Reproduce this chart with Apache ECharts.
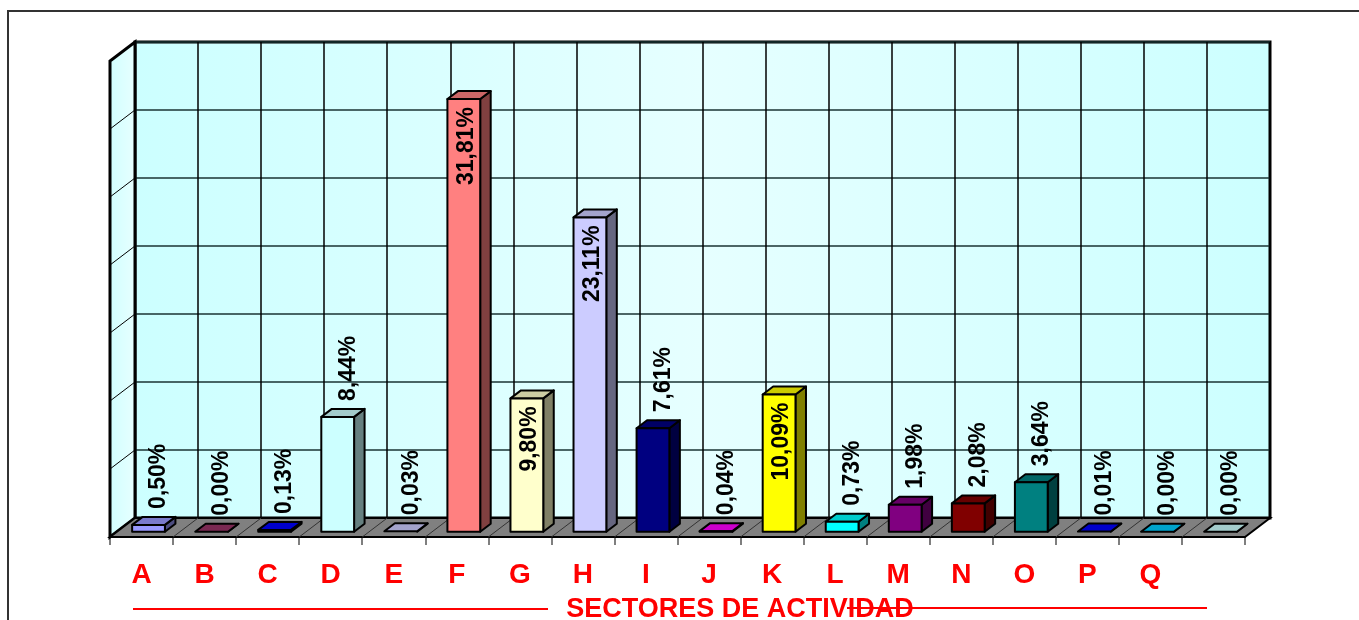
<!DOCTYPE html>
<html lang="es">
<head>
<meta charset="UTF-8">
<title>Sectores de actividad</title>
<style>
  html, body { margin: 0; padding: 0; background: #fff; }
  #chart { width: 1359px; height: 620px; }
</style>
</head>
<body>
<div id="chart"></div>
<script src="https://cdn.jsdelivr.net/npm/echarts@6/dist/echarts.min.js"></script>
<script>
const categories = ['A', 'B', 'C', 'D', 'E', 'F', 'G', 'H', 'I', 'J', 'K', 'L', 'M', 'N', 'O', 'P', 'Q', '']
const values = [0.50, 0.00, 0.13, 8.44, 0.03, 31.81, 9.80, 23.11, 7.61, 0.04, 10.09, 0.73, 1.98, 2.08, 3.64, 0.01, 0.00, 0.00]
const valueLabels = values.map(v => v.toFixed(2).replace('.', ',') + '%')
const barColors = ['#9999ff', '#993366', '#0000ff', '#ccffff', '#ccccff', '#ff8080', '#ffffcc', '#ccccff', '#000080',
  '#ff00ff', '#ffff00', '#00ffff', '#800080', '#800000', '#008080', '#0000ff', '#00ccff', '#ccffff']
const yMax = 35
const yStep = 5

// 3D depth: offset from back wall to front edge of floor
const DX = -25, DY = 19
const F_BACK = 0.3, F_FRONT = 0.72
const LABEL_FONT = 'bold 23px "Liberation Sans", Arial, sans-serif'

function shade(hex, k) {
  const n = parseInt(hex.slice(1), 16)
  const r = Math.round(((n >> 16) & 255) * k)
  const g = Math.round(((n >> 8) & 255) * k)
  const b = Math.round((n & 255) * k)
  return 'rgb(' + r + ',' + g + ',' + b + ')'
}

function renderWalls(params, api) {
  const cs = params.coordSys
  const x0 = cs.x, x1 = cs.x + cs.width
  const yTop = cs.y, yBot = cs.y + cs.height
  const bw = cs.width / categories.length
  const children = []
  children.push({
    type: 'polygon',
    shape: { points: [[x0, yTop], [x0, yBot], [x0 + DX, yBot + DY], [x0 + DX, yTop + DY]] },
    style: {
      fill: new echarts.graphic.LinearGradient(0, 0, 1, 0, [
        { offset: 0, color: '#d0ffff' }, { offset: 1, color: '#e8ffff' }
      ]),
      stroke: '#000', lineWidth: 3
    }
  })
  for (let t = yStep; t < yMax; t += yStep) {
    const y = api.coord([0, t])[1]
    children.push({
      type: 'line',
      shape: { x1: x0, y1: y, x2: x0 + DX, y2: y + DY },
      style: { stroke: '#000', lineWidth: 1 }
    })
  }
  children.push({
    type: 'polygon',
    shape: { points: [[x0, yBot], [x1, yBot], [x1 + DX, yBot + DY], [x0 + DX, yBot + DY]] },
    style: { fill: '#808080', stroke: '#000', lineWidth: 2 }
  })
  for (let k = 1; k < categories.length; k++) {
    const x = x0 + k * bw
    children.push({
      type: 'line',
      shape: { x1: x, y1: yBot, x2: x + DX, y2: yBot + DY },
      style: { stroke: '#333', lineWidth: 1 }
    })
  }
  return { type: 'group', children }
}

function renderBar(params, api) {
  const i = api.value(0)
  const v = api.value(1)
  const base = api.coord([i, 0])
  const top = api.coord([i, v])
  const hw = api.size([1, 0])[0] * 0.26
  const c = base[0]
  const fx = DX * F_FRONT, fy = DY * F_FRONT
  const bx = DX * F_BACK, by = DY * F_BACK
  const L = c - hw, R = c + hw
  const yT = top[1], yB = base[1]
  const col = barColors[i]
  const edge = { stroke: '#000', lineWidth: 2, lineJoin: 'round' }
  const children = [
    {
      type: 'polygon',
      shape: { points: [[R + fx, yT + fy], [R + bx, yT + by], [R + bx, yB + by], [R + fx, yB + fy]] },
      style: Object.assign({ fill: shade(col, 0.5) }, edge)
    },
    {
      type: 'polygon',
      shape: { points: [[L + fx, yT + fy], [R + fx, yT + fy], [R + bx, yT + by], [L + bx, yT + by]] },
      style: Object.assign({ fill: shade(col, 0.8) }, edge)
    }
  ]
  if (yB - yT > 0.5) {
    children.push({
      type: 'rect',
      shape: { x: L + fx, y: yT + fy, width: 2 * hw, height: yB - yT },
      style: Object.assign({ fill: col }, edge)
    })
  }
  const inside = v > 9
  children.push({
    type: 'text',
    x: inside ? c + fx + 3 : c + bx,
    y: inside ? yT + fy + 8 : yT + by - 8,
    rotation: Math.PI / 2,
    style: {
      text: valueLabels[i],
      fill: '#000',
      font: LABEL_FONT,
      align: inside ? 'right' : 'left',
      verticalAlign: 'middle'
    },
    z2: 10
  })
  return { type: 'group', children }
}

const chart = echarts.init(document.getElementById('chart'))

const option = {
  animation: false,
  grid: [
    // back wall
    {
      left: 135, right: 89, top: 42, bottom: 102,
      show: true,
      backgroundColor: new echarts.graphic.LinearGradient(0, 0, 1, 0, [
        { offset: 0, color: '#ccffff' }, { offset: 0.5, color: '#e6ffff' }, { offset: 1, color: '#ccffff' }
      ]),
      borderColor: '#000',
      borderWidth: 3
    },
    // front edge of floor, carries category labels
    { left: 110, right: 114, top: 42, bottom: 83 }
  ],
  xAxis: [
    {
      type: 'category',
      gridIndex: 0,
      data: categories,
      axisLine: { show: false },
      axisTick: { show: false },
      axisLabel: { show: false },
      splitLine: { show: true, interval: 0, lineStyle: { color: '#000', width: 1.5 } }
    },
    {
      type: 'category',
      gridIndex: 1,
      data: categories,
      axisLine: { show: true, lineStyle: { color: '#000', width: 2 } },
      axisTick: { show: true, interval: 0, length: 8, lineStyle: { color: '#555', width: 1.5 } },
      axisLabel: {
        interval: 0,
        margin: 24,
        color: '#ff0000',
        fontSize: 28,
        fontWeight: 'bold',
        fontFamily: '"Liberation Sans", Arial, sans-serif'
      },
      splitLine: { show: false }
    }
  ],
  yAxis: [
    {
      type: 'value',
      gridIndex: 0,
      min: 0,
      max: yMax,
      interval: yStep,
      axisLine: { show: false },
      axisTick: { show: false },
      axisLabel: { show: false },
      splitLine: { show: true, lineStyle: { color: '#1a3333', width: 1.5 } }
    },
    { type: 'value', gridIndex: 1, show: false, min: 0, max: yMax }
  ],
  graphic: [
    {
      type: 'rect',
      shape: { x: 8, y: 11, width: 1400, height: 700 },
      style: { fill: 'none', stroke: '#333', lineWidth: 2 },
      silent: true
    },
    {
      type: 'line',
      shape: { x1: 133, y1: 609, x2: 548, y2: 609 },
      style: { stroke: '#ff0000', lineWidth: 2 }
    },
    {
      type: 'line',
      shape: { x1: 847, y1: 608, x2: 1207, y2: 608 },
      style: { stroke: '#ff0000', lineWidth: 2 }
    },
    {
      type: 'text',
      x: 740,
      y: 610,
      style: {
        text: 'SECTORES DE ACTIVIDAD',
        fill: '#ff0000',
        font: 'bold 27px "Liberation Sans", Arial, sans-serif',
        align: 'center',
        verticalAlign: 'middle'
      }
    }
  ],
  series: [
    {
      type: 'custom',
      name: 'walls',
      xAxisIndex: 0,
      yAxisIndex: 0,
      clip: false,
      silent: true,
      renderItem: renderWalls,
      data: [[0, 0]]
    },
    {
      type: 'custom',
      name: 'sectores',
      xAxisIndex: 0,
      yAxisIndex: 0,
      clip: false,
      renderItem: renderBar,
      encode: { x: 0, y: 1 },
      data: values.map((v, i) => [i, v])
    }
  ]
}

chart.setOption(option)
</script>
</body>
</html>
